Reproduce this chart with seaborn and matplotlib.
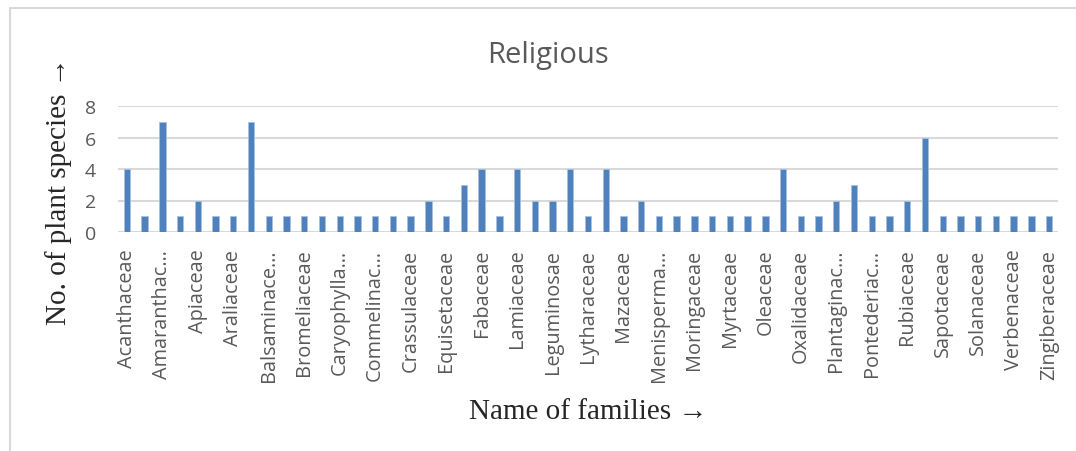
import matplotlib
matplotlib.use("Agg")
import matplotlib.pyplot as plt
import seaborn as sns
from matplotlib.lines import Line2D

# plant families (every other one is labelled on the axis)
families = [
    "Acanthaceae", "Acoraceae", "Amaranthaceae", "Anacardiaceae", "Apiaceae",
    "Apocynaceae", "Araliaceae", "Arecaceae", "Balsaminaceae", "Bignoniaceae",
    "Bromeliaceae", "Cactaceae", "Caryophyllaceae", "Combretaceae", "Commelinaceae",
    "Convolvulaceae", "Crassulaceae", "Cucurbitaceae", "Equisetaceae", "Euphorbiaceae",
    "Fabaceae", "Gentianaceae", "Lamiaceae", "Lauraceae", "Leguminosae",
    "Liliaceae", "Lytharaceae", "Malvaceae", "Mazaceae", "Meliaceae",
    "Menispermaceae", "Moraceae", "Moringaceae", "Musaceae", "Myrtaceae",
    "Nelumbonaceae", "Oleaceae", "Orchidaceae", "Oxalidaceae", "Pandanaceae",
    "Plantaginaceae", "Poaceae", "Pontederiaceae", "Ranunculaceae", "Rubiaceae",
    "Rutaceae", "Sapotaceae", "Scrophulariaceae", "Solanaceae", "Theaceae",
    "Verbenaceae", "Vitaceae", "Zingiberaceae",
]
species = [
    4, 1, 7, 1, 2, 1, 1, 7, 1, 1,
    1, 1, 1, 1, 1, 1, 1, 2, 1, 3,
    4, 1, 4, 2, 2, 4, 1, 4, 1, 2,
    1, 1, 1, 1, 1, 1, 1, 4, 1, 1,
    2, 3, 1, 1, 2, 6, 1, 1, 1, 1,
    1, 1, 1,
]
tick_labels = [
    "Acanthaceae", "Amaranthac…", "Apiaceae", "Araliaceae", "Balsaminace…",
    "Bromeliaceae", "Caryophylla…", "Commelinac…", "Crassulaceae", "Equisetaceae",
    "Fabaceae", "Lamiaceae", "Leguminosae", "Lytharaceae", "Mazaceae",
    "Menisperma…", "Moringaceae", "Myrtaceae", "Oleaceae", "Oxalidaceae",
    "Plantaginac…", "Pontederiac…", "Rubiaceae", "Sapotaceae", "Solanaceae",
    "Verbenaceae", "Zingiberaceae",
]

sns.set_style("white")
plt.rcParams['font.family'] = ['Open Sans', 'DejaVu Sans']

fig = plt.figure(figsize=(10.76, 4.52), dpi=100)
ax = fig.add_axes([118/1076, 1 - 233/452, 940/1076, 126/452])

sns.barplot(x=families, y=species, color="#4F81BD", width=0.36,
            saturation=1, edgecolor="#A9C1E0", linewidth=0.6, ax=ax, zorder=3)

ax.set_ylim(0, 8)
ax.set_yticks([0, 2, 4, 6, 8])
ax.grid(axis="y", color="#D9D9D9", linewidth=1.5, zorder=0)
ax.grid(axis="x", visible=False)
for s in ax.spines.values():
    s.set_visible(False)

ax.set_xticks(range(0, len(families), 2))
ax.set_xticklabels(tick_labels, rotation=90, va="top", ha="center")
ax.tick_params(axis="x", length=0, pad=12, labelsize=14.3, labelcolor="#595959")
ax.tick_params(axis="y", length=0, pad=16, labelsize=14, labelcolor="#595959")

serif = ['Liberation Serif', 'DejaVu Serif']
ax.set_ylabel("No. of plant species →", family=serif, fontsize=21)
ax.yaxis.set_label_coords(-0.049, 0.33)
ax.set_xlabel("Name of families →", family=serif, fontsize=21, labelpad=12)

fig.text(548/1076, 1 - 55/452, "Religious", ha="center", va="center",
         fontsize=21, color="#595959")

# chart frame (top and left edges visible)
fig.add_artist(Line2D([10/1076, 1], [1 - 9/452] * 2, color="#D9D9D9", lw=1.5))
fig.add_artist(Line2D([10/1076] * 2, [0, 1 - 9/452], color="#D9D9D9", lw=1.5))

fig.savefig("out.png", dpi=100)
